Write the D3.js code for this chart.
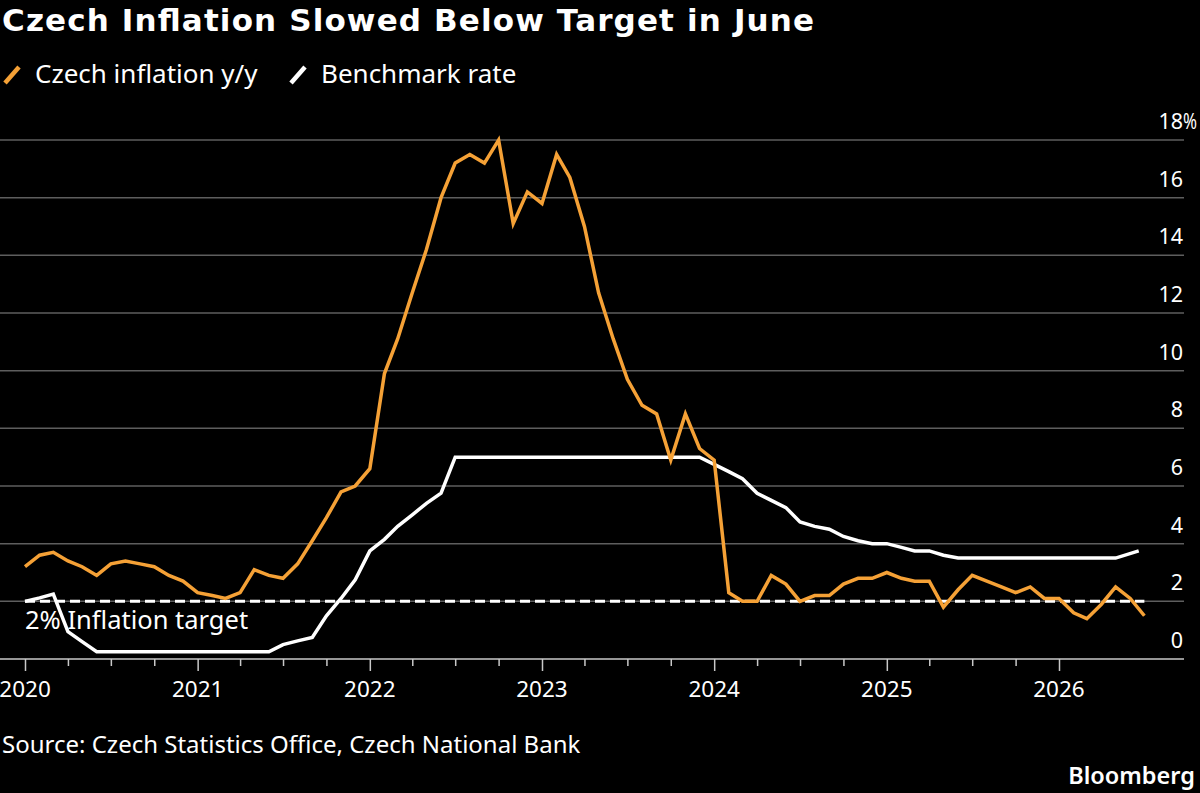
<!DOCTYPE html>
<html>
<head>
<meta charset="utf-8">
<script src="https://cdn.jsdelivr.net/npm/d3@7"></script>
<style>
html,body{margin:0;padding:0;background:#000;}
svg{display:block;}
text{font-family:"Noto Sans","Open Sans",sans-serif;fill:#fff;}
</style>
</head>
<body>
<script>
// ---- DATA ----
const title = "Czech Inflation Slowed Below Target in June";
const seriesNames = ["Czech inflation y/y", "Benchmark rate"];
const sourceText = "Source: Czech Statistics Office, Czech National Bank";
const targetLabel = "2% Inflation target";
const startMonth = "2020-01";
// Czech inflation y/y, monthly points starting Jan 2020 (as plotted)
const inflation = [
  3.2, 3.6, 3.7, 3.4, 3.2, 2.9, 3.3, 3.4, 3.3, 3.2, 2.9, 2.7,
  2.3, 2.2, 2.1, 2.3, 3.1, 2.9, 2.8, 3.3, 4.1, 4.9, 5.8, 6.0,
  6.6, 9.9, 11.1, 12.7, 14.2, 16.0, 17.2, 17.5, 17.2, 18.0, 15.1, 16.2,
  15.8, 17.5, 16.7, 15.0, 12.7, 11.1, 9.7, 8.8, 8.5, 6.9, 8.5, 7.3,
  6.9, 2.3, 2.0, 2.0, 2.9, 2.6, 2.0, 2.2, 2.2, 2.6, 2.8, 2.8,
  3.0, 2.8, 2.7, 2.7, 1.8, 2.4, 2.9, 2.7, 2.5, 2.3, 2.5, 2.1,
  2.1, 1.6, 1.4, 1.9, 2.5, 2.1, 1.5
];
// Benchmark rate, monthly points starting Jan 2020, last point mid-month
const rate = [
  2.0, 2.12, 2.25, 0.95, 0.6, 0.25, 0.25, 0.25, 0.25, 0.25, 0.25, 0.25,
  0.25, 0.25, 0.25, 0.25, 0.25, 0.25, 0.5, 0.63, 0.75, 1.5, 2.1, 2.75,
  3.75, 4.15, 4.6, 5.0, 5.4, 5.75, 7.0, 7.0, 7.0, 7.0, 7.0, 7.0,
  7.0, 7.0, 7.0, 7.0, 7.0, 7.0, 7.0, 7.0, 7.0, 7.0, 7.0, 7.0,
  6.75, 6.5, 6.25, 5.75, 5.5, 5.25, 4.75, 4.6, 4.5, 4.25, 4.1, 4.0,
  4.0, 3.87, 3.75, 3.75, 3.6, 3.5, 3.5, 3.5, 3.5, 3.5, 3.5, 3.5,
  3.5, 3.5, 3.5, 3.5, 3.5, 3.75
];
const rateLastDate = "2026-06-19";
const target = 2;
const yTicks = [0, 2, 4, 6, 8, 10, 12, 14, 16, 18];
const xYears = [2020, 2021, 2022, 2023, 2024, 2025, 2026];

// ---- LAYOUT ----
const W = 1200, H = 793;
const ORANGE = "#f5a136";
const parse = d3.timeParse("%Y-%m-%d");
const t0 = d3.timeParse("%Y-%m")(startMonth);
const monthDate = i => d3.timeMonth.offset(t0, i);

const inflData = inflation.map((v, i) => ({d: monthDate(i), v}));
const rateData = rate.map((v, i) => ({d: i === rate.length - 1 ? parse(rateLastDate) : monthDate(i), v}));

const x = d3.scaleTime()
  .domain([new Date(2020, 0, 1), new Date(2026, 0, 1)])
  .range([25, 1059]);
const y = d3.scaleLinear().domain([0, 18]).range([659, 140]);

const svg = d3.select("body").append("svg").attr("width", W).attr("height", H);
svg.append("rect").attr("width", W).attr("height", H).attr("fill", "#000");

// title
svg.append("text").attr("x", 2).attr("y", 31)
  .style("font-family", "'DejaVu Sans', sans-serif").style("font-weight", "bold")
  .style("font-size", "31px")
  .attr("textLength", 812).attr("lengthAdjust", "spacing")
  .text(title);

// legend
const legend = [
  {name: seriesNames[0], color: ORANGE, x: 3, tx: 35},
  {name: seriesNames[1], color: "#fff", x: 289, tx: 321}
];
legend.forEach(l => {
  svg.append("line").attr("x1", l.x + 2).attr("y1", 83).attr("x2", l.x + 16).attr("y2", 67)
    .attr("stroke", l.color).attr("stroke-width", 4.5).attr("stroke-linecap", "butt");
  svg.append("text").attr("x", l.tx).attr("y", 83).style("font-size", "26px").text(l.name);
});

// gridlines
const g = svg.append("g");
g.selectAll("line.grid").data(yTicks.filter(d => d > 0)).join("line")
  .attr("x1", 0).attr("x2", 1184).attr("y1", d => y(d)).attr("y2", d => y(d))
  .attr("stroke", "#5e5e5e").attr("stroke-width", 1.5);

// y labels
g.selectAll("text.ylab").data(yTicks).join("text")
  .attr("x", 1183).attr("y", d => y(d) - 11)
  .attr("text-anchor", "end").style("font-size", "21.5px")
  .text(d => d);
svg.append("text").attr("x", 1183).attr("y", y(18) - 11).style("font-size", "21.5px")
  .attr("textLength", 14).attr("lengthAdjust", "spacingAndGlyphs").text("%");

// x axis baseline & ticks
const xAxis = d3.axisBottom(x)
  .ticks(d3.timeMonth.every(3))
  .tickSize(7)
  .tickFormat("");
const ax = svg.append("g").attr("transform", `translate(0,${y(0)})`).call(xAxis);
ax.select(".domain").remove();
ax.selectAll(".tick line").attr("stroke", "#c8c8c8").attr("stroke-width", 1.5)
  .attr("y2", d => d.getMonth() === 0 ? 12 : 7);
svg.append("line").attr("x1", 0).attr("x2", 1184).attr("y1", y(0)).attr("y2", y(0))
  .attr("stroke", "#c8c8c8").attr("stroke-width", 1.5);
svg.selectAll("text.year").data(xYears).join("text")
  .attr("x", d => x(new Date(d, 0, 1))).attr("y", 697)
  .attr("text-anchor", "middle").style("font-size", "22.5px").text(d => d);

// target dashed line
const tDomain = [inflData[0].d, inflData[inflData.length - 1].d];
svg.append("line").attr("x1", x(tDomain[0])).attr("x2", x(tDomain[1]))
  .attr("y1", y(target)).attr("y2", y(target))
  .attr("stroke", "#fff").attr("stroke-width", 3).attr("stroke-dasharray", "10,5");
svg.append("text").attr("x", 25).attr("y", 629).style("font-size", "25.5px").text(targetLabel);

// lines
const line = d3.line().x(d => x(d.d)).y(d => y(d.v));
svg.append("path").datum(rateData).attr("d", line)
  .attr("fill", "none").attr("stroke", "#fff").attr("stroke-width", 3.5).attr("stroke-linejoin", "miter");
svg.append("path").datum(inflData).attr("d", line)
  .attr("fill", "none").attr("stroke", ORANGE).attr("stroke-width", 3.5).attr("stroke-linejoin", "miter");

// source & logo
svg.append("text").attr("x", 2).attr("y", 753).style("font-size", "24px").text(sourceText);
svg.append("text").attr("x", 1195).attr("y", 784).attr("text-anchor", "end")
  .style("font-size", "23.5px").style("font-weight", "600").text("Bloomberg");
</script>
</body>
</html>
